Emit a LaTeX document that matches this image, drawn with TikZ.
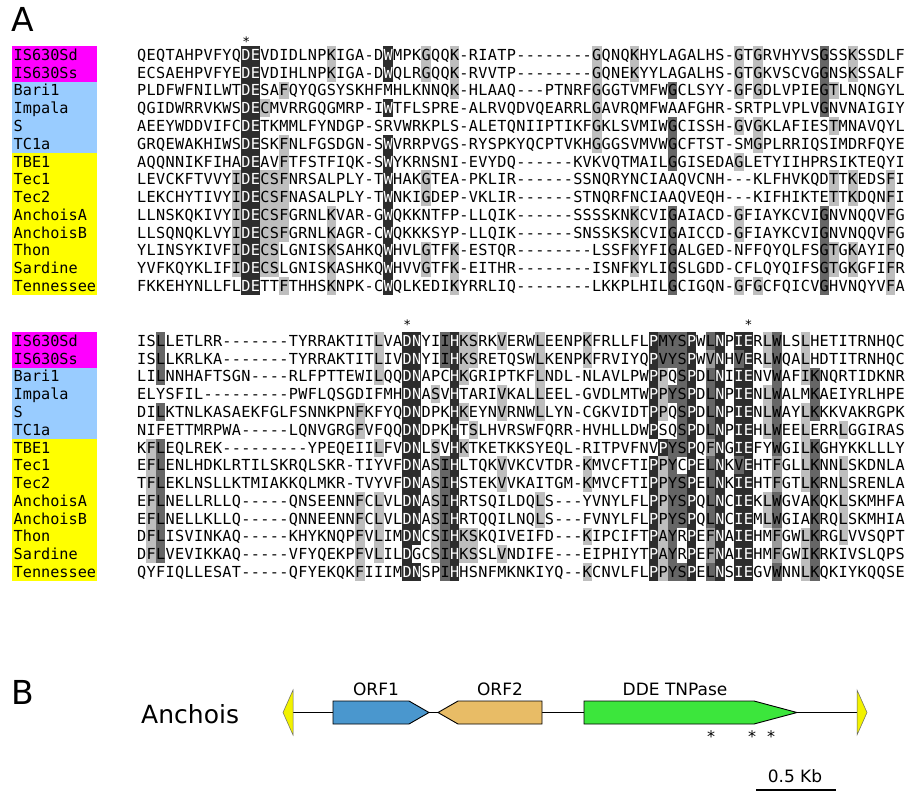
\documentclass[tikz,border=0pt]{standalone}
\usepackage{fontspec}
\setmainfont{DejaVu Sans}
\newfontfamily\monof{DejaVu Sans Mono}
\definecolor{sha}{HTML}{BEBEBE}
\definecolor{shm}{HTML}{9A9A9A}
\definecolor{shd}{HTML}{666666}
\definecolor{shk}{HTML}{2D2D2D}
\colorlet{txa}{black}\colorlet{txm}{black}\colorlet{txd}{black}\colorlet{txk}{white}
\definecolor{labm}{HTML}{FF00FF}
\definecolor{labb}{HTML}{99CCFF}
\definecolor{laby}{HTML}{FFFF00}
\definecolor{orfone}{HTML}{4A97CE}
\definecolor{orftwo}{HTML}{E8BC66}
\definecolor{tnpase}{HTML}{3CE63C}
\definecolor{tir}{HTML}{F2F200}
\newcount\cidx
\newcommand\shades[2]{\foreach \colno/\shcode in {#2}{\expandafter\xdef\csname sh@#1@\colno\endcsname{\shcode}}}
\def\seqend{seqend}
\newcommand\seqrow[3]{\global\cidx=0 \def\currow{#1}\def\cury{#2}\seqloop#3\seqend}
\def\seqloop#1{\ifx#1\seqend\else\global\advance\cidx by 1\relax\seqcell{#1}\expandafter\seqloop\fi}
\def\seqcell#1{%
  \pgfmathsetmacro\cx{137+(\the\cidx-0.5)*9.48}%
  \ifcsname sh@\currow @\the\cidx\endcsname
    \edef\shc{\csname sh@\currow @\the\cidx\endcsname}%
    \edef\shcolor{sh\shc}\edef\txcolor{tx\shc}%
    \fill[fill=\shcolor] (\cx-4.76,\cury-8.9) rectangle (\cx+4.76,\cury+8.9);
    \node[cellchar,text=\txcolor] (c\currow-\the\cidx) at (\cx,\cury+5.4) {#1};
  \else
    \node[cellchar] (c\currow-\the\cidx) at (\cx,\cury+5.4) {#1};
  \fi}
% shading, block 1
\def\lA{12/k,13/k,21/a,27/k,31/a,34/a,49/a,53/a,64/a,66/a,73/d,76/a}
\def\lTec{11/a,12/k,13/k,14/a,15/a,16/a,27/k,31/a,74/a,76/a,80/a}
\def\lAnc{11/a,12/k,13/k,14/a,15/a,16/a,21/a,27/k,53/a,57/d,64/a,73/d,80/a}
\def\lTh{11/a,12/k,13/k,14/a,15/a,21/a,27/k,31/a,34/a,53/a,57/d,73/d,74/a,76/a,80/a}
\expandafter\shades\expandafter{\expandafter a\expandafter1\expandafter}\expandafter{\lA}
\expandafter\shades\expandafter{\expandafter a\expandafter2\expandafter}\expandafter{\lA}
\shades{a3}{12/k,13/k,16/a,34/a,49/a,57/d,64/a,66/a,73/d,74/a}
\shades{a4}{12/k,13/k,14/a,27/k,49/a,73/d}
\shades{a5}{12/k,13/k,49/a,57/d,64/a,66/a,74/a}
\shades{a6}{12/k,13/k,16/a,27/k,49/a,57/d,66/a}
\shades{a7}{12/k,13/k,16/a,27/k,57/d,64/a}
\expandafter\shades\expandafter{\expandafter a\expandafter8\expandafter}\expandafter{\lTec}
\expandafter\shades\expandafter{\expandafter a\expandafter9\expandafter}\expandafter{\lTec}
\expandafter\shades\expandafter{\expandafter a\expandafter1\expandafter0\expandafter}\expandafter{\lAnc}
\expandafter\shades\expandafter{\expandafter a\expandafter1\expandafter1\expandafter}\expandafter{\lAnc}
\expandafter\shades\expandafter{\expandafter a\expandafter1\expandafter2\expandafter}\expandafter{\lTh}
\expandafter\shades\expandafter{\expandafter a\expandafter1\expandafter3\expandafter}\expandafter{\lTh}
\shades{a14}{12/k,13/k,16/a,21/a,27/k,34/a,57/d,64/a,66/a,73/d,80/a}
% shading, block 2
\shades{b1}{3/d,26/a,29/k,30/k,33/d,34/k,35/a,36/a,39/a,43/a,48/a,55/k,56/d,57/d,58/d,59/k,61/d,62/k,64/k,65/k,67/a,68/d,71/a}
\shades{b2}{3/d,26/a,29/k,30/k,33/d,34/k,35/a,36/a,43/a,48/a,55/k,56/d,57/d,58/d,59/k,61/m,62/k,64/d,65/k,67/a,68/d,71/a}
\shades{b3}{3/d,26/a,29/k,30/k,34/k,35/a,43/a,55/k,56/a,58/d,59/k,61/d,62/k,64/k,65/k,68/d,71/a,72/d}
\shades{b4}{29/k,30/k,32/a,34/k,39/a,43/a,55/k,56/a,57/d,58/d,59/k,61/d,62/k,64/k,65/k,67/a,68/d,72/d}
\shades{b5}{3/d,24/a,29/k,30/k,34/k,35/a,39/a,43/a,55/k,56/a,58/d,59/k,61/d,62/k,64/k,65/k,67/a,68/d,71/a,72/d}
\shades{b6}{24/a,29/k,30/k,34/k,36/a,55/k,58/d,59/k,61/d,62/k,64/k,65/k,67/a,68/d,71/a,75/a}
\shades{b7}{2/a,3/d,26/a,29/k,30/k,32/a,34/k,35/a,56/k,57/d,58/d,59/k,61/m,62/k,64/k,65/k,68/d,71/a,72/d}
\shades{b8}{2/a,3/d,29/k,30/k,32/a,33/d,34/k,39/a,48/a,55/k,56/a,57/d,59/k,61/d,62/k,64/d,65/k,68/m,71/a,72/d,75/a}
\shades{b9}{2/a,3/d,29/k,30/k,32/a,33/d,34/k,39/a,48/a,55/k,56/a,57/d,58/d,59/k,61/d,62/k,64/k,65/k,68/m,71/a,72/d,75/a}
\shades{b10}{2/a,3/d,24/a,26/a,29/k,30/k,32/a,33/d,34/k,43/a,55/k,56/a,57/d,58/d,59/k,61/d,62/k,64/k,65/k,67/a,68/d,72/d,75/a}
\shades{b11}{2/a,3/d,24/a,26/a,29/k,30/k,32/a,33/d,34/k,43/a,55/k,56/a,57/d,58/d,59/k,61/d,62/k,64/k,65/k,67/a,68/d,72/d,75/a}
\shades{b12}{2/a,3/d,24/a,26/a,29/k,30/k,32/a,33/d,34/k,35/a,36/a,48/a,55/k,56/a,57/d,59/k,61/m,62/k,64/k,65/k,68/m,71/a,72/d,75/a}
\shades{b13}{2/a,3/d,24/a,26/a,29/k,32/a,33/d,34/k,35/a,36/a,39/a,55/k,56/a,57/d,59/k,61/m,62/k,64/k,65/k,68/m,71/a,72/d}
\shades{b14}{24/a,29/k,30/k,33/d,34/k,48/a,55/k,56/a,57/d,58/d,59/k,61/d,62/k,64/k,65/k,68/d,71/a,72/d}
\tikzset{
  cellchar/.style={font=\monof\fontsize{15.2}{18}\selectfont, inner sep=0pt, anchor=base},
  labtext/.style={font=\monof\fontsize{15.2}{18}\selectfont, inner sep=0pt, anchor=base west},
  starmark/.style={font=\monof\fontsize{13}{15}\selectfont, inner sep=0pt, anchor=base},
  paneltag/.style={font=\fontsize{33}{36}\selectfont, inner sep=0pt, anchor=base west},
  genebox/.style={draw=black, line width=0.9pt},
  orflabel/.style={font=\fontsize{17}{20}\selectfont, inner sep=0pt},
  tirmark/.style={fill=tir, draw=black!60, line width=0.5pt},
}
\begin{document}
\begin{tikzpicture}[x=1pt,y=-1pt]
\useasboundingbox (0,0) rectangle (909,800);
\fill[white] (0,0) rectangle (909,800);
% panel A
\node[paneltag] (tagA) at (11,32) {A};
% label bands
\fill[labm] (12,46.1) rectangle (97,81.65);
\fill[labb] (12,81.65) rectangle (97,152.73);
\fill[laby] (12,152.73) rectangle (97,294.9);
\fill[labm] (12,332.1) rectangle (97,367.65);
\fill[labb] (12,367.65) rectangle (97,438.73);
\fill[laby] (12,438.73) rectangle (97,580.9);
\foreach \bl/\yy in {a/55, b/341}{
  \foreach \nm [count=\i] in {IS630Sd,IS630Ss,Bari1,Impala,S,TC1a,TBE1,Tec1,Tec2,AnchoisA,AnchoisB,Thon,Sardine,Tennessee}{
    \node[labtext] (lab\bl\i) at (13.5,{\yy+(\i-1)*17.77+5.4}) {\nm};
  }
}
% stars
\node[starmark] (stA) at (246.3,46) {*};
\node[starmark] (stB1) at (407.2,329) {*};
\node[starmark] (stB2) at (748.5,329) {*};
% block 1
\seqrow{a1}{55.00}{QEQTAHPVFYQDEVDIDLNPKIGA-DWMPKGQQK-RIATP--------GQNQKHYLAGALHS-GTGRVHYVSGSSKSSDLF}
\seqrow{a2}{72.77}{ECSAEHPVFYEDEVDIHLNPKIGA-DWQLRGQQK-RVVTP--------GQNEKYYLAGALHS-GTGKVSCVGGNSKSSALF}
\seqrow{a3}{90.54}{PLDFWFNILWTDESAFQYQGSYSKHFMHLKNNQK-HLAAQ---PTNRFGGGTVMFWGCLSYY-GFGDLVPIEGTLNQNGYL}
\seqrow{a4}{108.31}{QGIDWRRVKWSDECMVRRGQGMRP-IWTFLSPRE-ALRVQDVQEARRLGAVRQMFWAAFGHR-SRTPLVPLVGNVNAIGIY}
\seqrow{a5}{126.08}{AEEYWDDVIFCDETKMMLFYNDGP-SRVWRKPLS-ALETQNIIPTIKFGKLSVMIWGCISSH-GVGKLAFIESTMNAVQYL}
\seqrow{a6}{143.85}{GRQEWAKHIWSDESKFNLFGSDGN-SWVRRPVGS-RYSPKYQCPTVKHGGGSVMVWGCFTST-SMGPLRRIQSIMDRFQYE}
\seqrow{a7}{161.62}{AQQNNIKFIHADEAVFTFSTFIQK-SWYKRNSNI-EVYDQ------KVKVQTMAILGGISEDAGLETYIIHPRSIKTEQYI}
\seqrow{a8}{179.39}{LEVCKFTVVYIDECSFNRSALPLY-TWHAKGTEA-PKLIR------SSNQRYNCIAAQVCNH---KLFHVKQDTTKEDSFI}
\seqrow{a9}{197.16}{LEKCHYTIVYIDECSFNASALPLY-TWNKIGDEP-VKLIR------STNQRFNCIAAQVEQH---KIFHIKTETTKDQNFI}
\seqrow{a10}{214.93}{LLNSKQKIVYIDECSFGRNLKVAR-GWQKKNTFP-LLQIK------SSSSKNKCVIGAIACD-GFIAYKCVIGNVNQQVFG}
\seqrow{a11}{232.70}{LLSQNQKLVYIDECSFGRNLKAGR-CWQKKKSYP-LLQIK------SNSSKSKCVIGAICCD-GFIAYKCVIGNVNQQVFG}
\seqrow{a12}{250.47}{YLINSYKIVFIDECSLGNISKSAHKQWHVLGTFK-ESTQR--------LSSFKYFIGALGED-NFFQYQLFSGTGKAYIFQ}
\seqrow{a13}{268.24}{YVFKQYKLIFIDECSLGNISKASHKQWHVVGTFK-EITHR--------ISNFKYLIGSLGDD-CFLQYQIFSGTGKGFIFR}
\seqrow{a14}{286.01}{FKKEHYNLLFLDETTFTHHSKNPK-CWQLKEDIKYRRLIQ--------LKKPLHILGCIGQN-GFGCFQICVGHVNQYVFA}
% block 2
\seqrow{b1}{341.00}{ISLLETLRR-------TYRRAKTITLVADNYIIHKSRKVERWLEENPKFRLLFLPMYSPWLNPIERLWLSLHETITRNHQC}
\seqrow{b2}{358.77}{ISLLKRLKA-------TYRRAKTITLIVDNYIIHKSRETQSWLKENPKFRVIYQPVYSPWVNHVERLWQALHDTITRNHQC}
\seqrow{b3}{376.54}{LILNNHAFTSGN----RLFPTTEWILQQDNAPCHKGRIPTKFLNDL-NLAVLPWPPQSPDLNIIENVWAFIKNQRTIDKNR}
\seqrow{b4}{394.31}{ELYSFIL---------PWFLQSGDIFMHDNASVHTARIVKALLEEL-GVDLMTWPPYSPDLNPIENLWALMKAEIYRLHPE}
\seqrow{b5}{412.08}{DILKTNLKASAEKFGLFSNNKPNFKFYQDNDPKHKEYNVRNWLLYN-CGKVIDTPPQSPDLNPIENLWAYLKKKVAKRGPK}
\seqrow{b6}{429.85}{NIFETTMRPWA-----LQNVGRGFVFQQDNDPKHTSLHVRSWFQRR-HVHLLDWPSQSPDLNPIEHLWEELERRLGGIRAS}
\seqrow{b7}{447.62}{KFLEQLREK---------YPEQEIILFVDNLSVHKTKETKKSYEQL-RITPVFNVPYSPQFNGIEFYWGILKGHYKKLLLY}
\seqrow{b8}{465.39}{EFLENLHDKLRTILSKRQLSKR-TIYVFDNASIHLTQKVVKCVTDR-KMVCFTIPPYCPELNKVEHTFGLLKNNLSKDNLA}
\seqrow{b9}{483.16}{TFLEKLNSLLKTMIAKKQLMKR-TVYVFDNASIHSTEKVVKAITGM-KMVCFTIPPYSPELNKIEHTFGTLKRNLSRENLA}
\seqrow{b10}{500.93}{EFLNELLRLLQ-----QNSEENNFCLVLDNASIHRTSQILDQLS---YVNYLFLPPYSPQLNCIEKLWGVAKQKLSKMHFA}
\seqrow{b11}{518.70}{EFLNELLKLLQ-----QNNEENNFCLVLDNASIHRTQQILNQLS---FVNYLFLPPYSPQLNCIEMLWGIAKRQLSKMHIA}
\seqrow{b12}{536.47}{DFLISVINKAQ-----KHYKNQPFVLIMDNCSIHKSKQIVEIFD---KIPCIFTPAYRPEFNAIEHMFGWLKRGLVVSQPT}
\seqrow{b13}{554.24}{DFLVEVIKKAQ-----VFYQEKPFVLILDGCSIHKSSLVNDIFE---EIPHIYTPAYRPEFNAIEHMFGWIKRKIVSLQPS}
\seqrow{b14}{572.01}{QYFIQLLESAT-----QFYEKQKFIIIMDNSPIHHSNFMKNKIYQ--KCNVLFLPPYSPELNSIEGVWNNLKQKIYKQQSE}
% panel B
\node[paneltag] (tagB) at (11,704) {B};
\node[font=\fontsize{25}{28}\selectfont, inner sep=0pt, anchor=west] (anchois) at (141,714) {Anchois};
\coordinate (tirL) at (293,712.5);
\coordinate (tirR) at (857,712.5);
\draw[line width=1.1pt] (tirL) -- (tirR);
\path[tirmark] (283,712.5) -- (293,690) -- (293,735) -- cycle;
\path[tirmark] (867,712.5) -- (857,690) -- (857,735) -- cycle;
\path[genebox, fill=orfone] (333,701) -- (409,701) -- (429,712.5) -- (409,724) -- (333,724) -- cycle;
\path[genebox, fill=orftwo] (438,712.5) -- (458,701) -- (542,701) -- (542,724) -- (458,724) -- cycle;
\path[genebox, fill=tnpase] (584,701) -- (754,701) -- (797,712.5) -- (754,724) -- (584,724) -- cycle;
\node[orflabel] (l1) at (376,689) {ORF1};
\node[orflabel] (l2) at (500,689) {ORF2};
\node[orflabel] (l3) at (675,689) {DDE TNPase};
\node[font=\fontsize{16}{18}\selectfont, inner sep=0pt, anchor=base] (s1) at (711,742) {*};
\node[font=\fontsize{16}{18}\selectfont, inner sep=0pt, anchor=base] (s2) at (752,742) {*};
\node[font=\fontsize{16}{18}\selectfont, inner sep=0pt, anchor=base] (s3) at (771,742) {*};
\node[orflabel] (kb) at (795,776) {0.5 Kb};
\coordinate (barL) at (756,790);
\coordinate (barR) at (836,790);
\draw[line width=2.5pt] (barL) -- (barR);
\end{tikzpicture}
\end{document}
